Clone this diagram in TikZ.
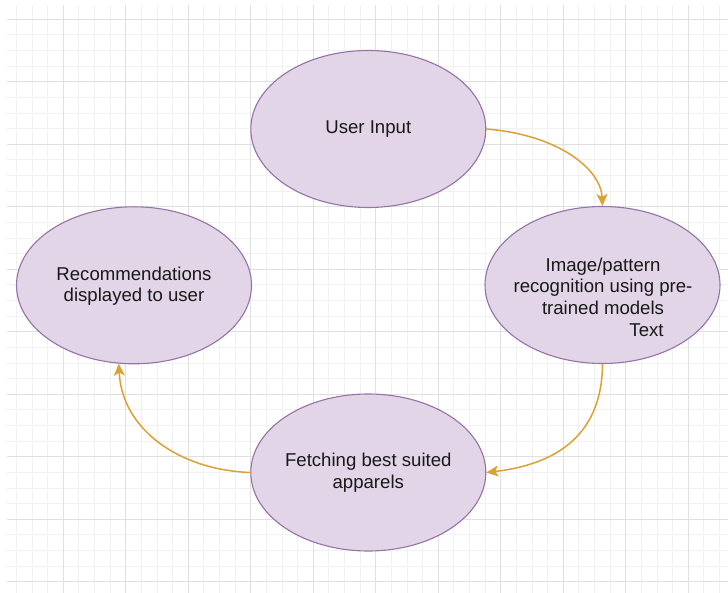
\documentclass[tikz,border=0pt]{standalone}
\usepackage{fontspec}
\setmainfont{Liberation Sans}
\usetikzlibrary{shapes.geometric,arrows.meta,calc}

\definecolor{gridmajor}{HTML}{E0E0E0}
\definecolor{gridminor}{HTML}{F1F1F1}
\definecolor{procfill}{HTML}{E1D5E7}
\definecolor{procline}{HTML}{9673A6}
\definecolor{flowline}{HTML}{DCA133}

\tikzset{
  process/.style={ellipse, draw=procline, fill=procfill, line width=1.1pt,
    minimum width=235pt, minimum height=157pt, inner sep=0pt},
  caption/.style={align=center, inner sep=0pt,
    font=\fontsize{18.6}{21.7}\selectfont, text=black!90},
  flow/.style={draw=flowline, line width=1.5pt,
    -{Stealth[length=12pt,width=11pt,inset=3pt]}},
}

\begin{document}
\begin{tikzpicture}[x=1pt,y=-1pt]
  % canvas
  \fill[white] (0,0) rectangle (728,593);
  \useasboundingbox (0,0) rectangle (728,593);

  % background grid: minor lines every 15.625, major every 62.5
  \begin{scope}
    \clip (7,5) rectangle (728,593);
    \foreach \i in {0,...,47} {
      \draw[gridminor, line width=1pt] ({0.8+15.625*\i},5) -- ({0.8+15.625*\i},593);
    }
    \foreach \j in {-1,...,38} {
      \draw[gridminor, line width=1pt] (7,{19.3+15.625*\j}) -- (728,{19.3+15.625*\j});
    }
    \foreach \i in {0,...,12} {
      \draw[gridmajor, line width=1.2pt] ({0.8+62.5*\i},5) -- ({0.8+62.5*\i},593);
    }
    \foreach \j in {0,...,10} {
      \draw[gridmajor, line width=1.2pt] (7,{19.3+62.5*\j}) -- (728,{19.3+62.5*\j});
    }
  \end{scope}

  % process steps
  \node[process] (ui)    at (368.3,129)   {};
  \node[process] (img)   at (602.5,285)   {};
  \node[process] (fetch) at (368.3,472.5) {};
  \node[process] (rec)   at (134,285.3)   {};

  % step captions
  \node[caption] (uit)    at (ui)    {User Input};
  \node[caption] (imgt)   at ($(img)+(0.5,12)$)
    {Image/pattern\\recognition using pre-\\trained models\\\hspace*{87pt}Text};
  \node[caption] (fetcht) at ($(fetch)+(0,0)$) {Fetching best suited\\apparels};
  \node[caption] (rect)   at ($(rec)+(0,1)$)   {Recommendations\\displayed to user};

  % flow between steps
  \draw[flow] (ui.east) .. controls (560,135) and (601,170) .. (img.north);
  \draw[flow] (img.south) .. controls (602,440) and (550,465) .. (fetch.east);
  \draw[flow] (fetch.west) .. controls (180,470) and (122,430) .. (rec.259);
\end{tikzpicture}
\end{document}
